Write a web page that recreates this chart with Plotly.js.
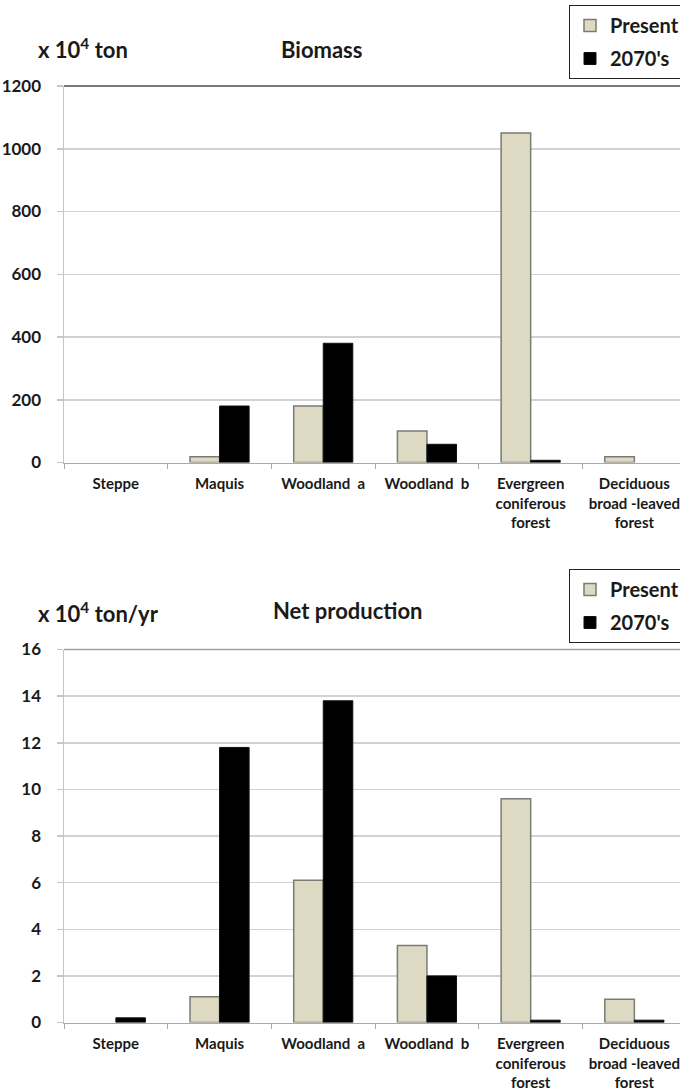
<!DOCTYPE html>
<html>
<head>
<meta charset="utf-8">
<script src="https://cdn.plot.ly/plotly-3.0.1.min.js"></script>
<style>
  html, body { margin: 0; padding: 0; background: #ffffff; }
  #chart { width: 680px; height: 1090px; }
</style>
</head>
<body>
<div id="chart"></div>
<script>
// ---- data ----  (null = no bar drawn in the reference)
const categories = [
  'Steppe',
  'Maquis',
  'Woodland\u00a0\u00a0a',
  'Woodland\u00a0\u00a0b',
  'Evergreen<br>coniferous<br>forest',
  'Deciduous<br>broad -leaved<br>forest'
];
const seriesNames = ['Present', "2070's"];
const biomassPresent = [null, 18, 180, 100, 1050, 18];
const biomass2070 = [null, 180, 380, 58, 7, null];
const netPresent = [null, 1.1, 6.1, 3.3, 9.6, 1.0];
const net2070 = [0.2, 11.8, 13.8, 2.0, 0.1, 0.1];
const biomassTicks = [0, 200, 400, 600, 800, 1000, 1200];
const netTicks = [0, 2, 4, 6, 8, 10, 12, 14, 16];
const titles = ['Biomass', 'Net production'];
const units = ['x 10<sup>4</sup> ton', 'x 10<sup>4</sup> ton/yr'];

// ---- styling ----
const FONT = 'Lato, "Open Sans", sans-serif';
const presentFill = '#ddd9c3';
const presentLine = '#7b7b73';
const futureFill = '#000000';
const gridColor = '#d2d2d2';

const W = 680, H = 1090, L = 64;
function py(px) { return 1 - px / H; }

const traces = [
  {type: 'bar', x: categories, y: biomassPresent, name: seriesNames[0], xaxis: 'x', yaxis: 'y',
   marker: {color: presentFill, line: {color: presentLine, width: 1.5}},
   legend: 'legend', legendgroup: 'a'},
  {type: 'bar', x: categories, y: biomass2070, name: seriesNames[1], xaxis: 'x', yaxis: 'y',
   marker: {color: futureFill, line: {color: '#111', width: 1}},
   legend: 'legend', legendgroup: 'b'},
  {type: 'bar', x: categories, y: netPresent, name: seriesNames[0], xaxis: 'x2', yaxis: 'y2',
   marker: {color: presentFill, line: {color: presentLine, width: 1.5}},
   legend: 'legend2', legendgroup: 'c'},
  {type: 'bar', x: categories, y: net2070, name: seriesNames[1], xaxis: 'x2', yaxis: 'y2',
   marker: {color: futureFill, line: {color: '#111', width: 1}},
   legend: 'legend2', legendgroup: 'd'}
];

function xAxis(anchor) {
  return {
    anchor: anchor, domain: [0, 1], type: 'category',
    range: [-0.5, 5.44], automargin: false, fixedrange: true,
    showline: true, linecolor: '#a9a9a9', linewidth: 1.5,
    ticks: 'outside', tickson: 'boundaries', ticklen: 5, tickcolor: '#a9a9a9', tickwidth: 1,
    showgrid: false, ticklabelstandoff: 7,
    tickfont: {family: FONT, size: 15, color: '#1a1a1a', weight: 'bold'}
  };
}
function yAxis(anchor, domain, range, ticks) {
  return {
    anchor: anchor, domain: domain, range: range, automargin: false, fixedrange: true,
    tickvals: ticks, ticktext: ticks.map(String),
    showline: true, linecolor: '#c6c6c6', linewidth: 1.5,
    ticks: 'outside', ticklen: 6, tickcolor: '#c6c6c6', tickwidth: 1.5,
    showgrid: true, gridcolor: gridColor, gridwidth: 1.5, zeroline: false,
    ticklabelstandoff: 12,
    tickfont: {family: FONT, size: 17, color: '#1a1a1a', weight: 'bold'}
  };
}

const legendBase = {
  xref: 'paper', yref: 'paper', xanchor: 'left', yanchor: 'top',
  bgcolor: '#ffffff', bordercolor: '#222', borderwidth: 1,
  font: {family: FONT, size: 20, color: '#1a1a1a', weight: 'bold'},
  traceorder: 'grouped', tracegroupgap: 4, itemwidth: 30,
  entrywidth: 125, entrywidthmode: 'pixels'
};

const annFont = {family: FONT, size: 22, color: '#1a1a1a', weight: 'bold'};
const layout = {
  width: W, height: H,
  margin: {l: L, r: 0, t: 0, b: 0, autoexpand: false},
  paper_bgcolor: '#ffffff', plot_bgcolor: '#ffffff',
  barmode: 'group', bargap: 0.43, bargroupgap: 0,
  showlegend: true,
  xaxis: xAxis('y'),
  yaxis: yAxis('x', [py(462.5), py(86)], [0, 1200], biomassTicks),
  xaxis2: xAxis('y2'),
  yaxis2: yAxis('x2', [py(1022.5), py(649.5)], [0, 16], netTicks),
  legend: Object.assign({}, legendBase, {x: (569 - L) / (W - L), y: py(5)}),
  legend2: Object.assign({}, legendBase, {x: (569 - L) / (W - L), y: py(569)}),
  annotations: [
    {text: units[0], xref: 'paper', yref: 'paper', x: (36 - L) / (W - L), y: py(48),
     xanchor: 'left', yanchor: 'middle', showarrow: false, font: annFont},
    {text: titles[0], xref: 'paper', yref: 'paper', x: (321 - L) / (W - L), y: py(50),
     xanchor: 'center', yanchor: 'middle', showarrow: false, font: annFont},
    {text: units[1], xref: 'paper', yref: 'paper', x: (36 - L) / (W - L), y: py(612),
     xanchor: 'left', yanchor: 'middle', showarrow: false, font: annFont},
    {text: titles[1], xref: 'paper', yref: 'paper', x: (348 - L) / (W - L), y: py(610),
     xanchor: 'center', yanchor: 'middle', showarrow: false, font: annFont}
  ],
  shapes: [
    {type: 'line', xref: 'paper', yref: 'y domain', x0: 0, x1: 1, y0: 1, y1: 1,
     line: {color: '#7a7a7a', width: 2}},
    {type: 'line', xref: 'paper', yref: 'y2 domain', x0: 0, x1: 1, y0: 1, y1: 1,
     line: {color: '#a0a0a0', width: 1.5}}
  ]
};

Plotly.newPlot('chart', traces, layout, {displayModeBar: false, staticPlot: true});
</script>
</body>
</html>
